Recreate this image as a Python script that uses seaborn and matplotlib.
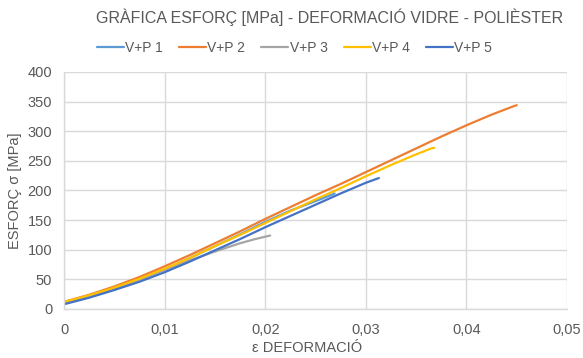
import matplotlib
matplotlib.use("Agg")
import matplotlib.pyplot as plt
from matplotlib.ticker import FuncFormatter, MultipleLocator
import seaborn as sns
import pandas as pd

# Stress-strain readings for five glass fibre / polyester specimens
strain_1 = [0, 0.0025, 0.005, 0.0075, 0.01, 0.0125, 0.015, 0.0175, 0.02, 0.0225, 0.025, 0.0265, 0.0269]
stress_1 = [10, 22, 35, 50, 67, 86, 106, 126, 147, 166, 182, 192, 195]

strain_2 = [0, 0.0025, 0.005, 0.0075, 0.01, 0.0125, 0.015, 0.0175, 0.02, 0.0225, 0.025, 0.0275,
            0.03, 0.0325, 0.035, 0.0375, 0.04, 0.0425, 0.0445, 0.045]
stress_2 = [12, 24, 38, 54, 72, 91, 111, 131, 152, 172, 192, 211,
            231, 251, 271, 291, 310, 328, 341, 344]

strain_3 = [0, 0.0025, 0.005, 0.0075, 0.01, 0.0125, 0.015, 0.0175, 0.019, 0.02, 0.0205]
stress_3 = [10, 22, 35, 50, 66, 82, 97, 111, 118, 122, 124]

strain_4 = [0, 0.0025, 0.005, 0.0075, 0.01, 0.0125, 0.015, 0.0175, 0.02, 0.0225, 0.025, 0.0275,
            0.03, 0.0325, 0.035, 0.0365, 0.0368]
stress_4 = [12, 23, 36, 51, 68, 86, 106, 125, 145, 165, 185, 204,
            224, 243, 261, 271, 272]

strain_5 = [0, 0.0025, 0.005, 0.0075, 0.01, 0.0125, 0.015, 0.0175, 0.02, 0.0225, 0.025, 0.0275,
            0.03, 0.0313]
stress_5 = [8, 19, 32, 46, 62, 80, 99, 118, 138, 157, 176, 195, 213, 221]

series_names = ["V+P 1", "V+P 2", "V+P 3", "V+P 4", "V+P 5"]
series_colors = ["#5B9BD5", "#ED7D31", "#A5A5A5", "#FFC000", "#4472C4"]

frames = []
for name, xs, ys in zip(series_names,
                        [strain_1, strain_2, strain_3, strain_4, strain_5],
                        [stress_1, stress_2, stress_3, stress_4, stress_5]):
    frames.append(pd.DataFrame({"strain": xs, "stress": ys, "serie": name}))
data = pd.concat(frames, ignore_index=True)

sns.set_theme(style="white")
plt.rcParams["font.family"] = ["Liberation Sans", "DejaVu Sans"]
text_gray = "#595959"
grid_gray = "#D9D9D9"

fig = plt.figure(figsize=(5.83, 3.58), dpi=100)
ax = fig.add_axes([0.1098, 0.1369, 0.8628, 0.662])

sns.lineplot(data=data, x="strain", y="stress", hue="serie", hue_order=series_names,
             palette=series_colors, sort=False, estimator=None, linewidth=1.6,
             legend=False, ax=ax)

ax.set_xlim(0, 0.05)
ax.set_ylim(0, 400)
ax.xaxis.set_major_locator(MultipleLocator(0.01))
ax.yaxis.set_major_locator(MultipleLocator(50))
ax.xaxis.set_major_formatter(FuncFormatter(
    lambda v, p: "0" if abs(v) < 1e-12 else f"{v:.2f}".replace(".", ",")))
ax.yaxis.set_major_formatter(FuncFormatter(lambda v, p: f"{v:.0f}"))

ax.grid(True, color=grid_gray, linewidth=1.0)
ax.set_axisbelow(True)
for side in ["top", "right"]:
    ax.spines[side].set_visible(False)
for side in ["left", "bottom"]:
    ax.spines[side].set_color(grid_gray)
    ax.spines[side].set_linewidth(1.0)
ax.tick_params(axis="both", length=0, labelsize=10.5, colors=text_gray)
ax.tick_params(axis="x", pad=10)
ax.tick_params(axis="y", pad=8.5)

ax.set_xlabel("ε DEFORMACIÓ", fontsize=10.5, color=text_gray)
ax.set_ylabel("ESFORÇ σ [MPa]", fontsize=10.5, color=text_gray, labelpad=4)
ax.xaxis.set_label_coords(0.483, -0.135)

fig.text(0.566, 0.952, "GRÀFICA ESFORÇ [MPa] - DEFORMACIÓ VIDRE - POLIÈSTER",
         ha="center", va="center", fontsize=11.5, color=text_gray)

handles = [plt.Line2D([], [], color=c, linewidth=1.6) for c in series_colors]
fig.legend(handles, series_names, loc="center", bbox_to_anchor=(0.505, 0.866),
           ncol=5, frameon=False, fontsize=10, labelcolor=text_gray,
           handlelength=1.95, handletextpad=0.1, columnspacing=1.15)

fig.savefig("out.png", dpi=100)
